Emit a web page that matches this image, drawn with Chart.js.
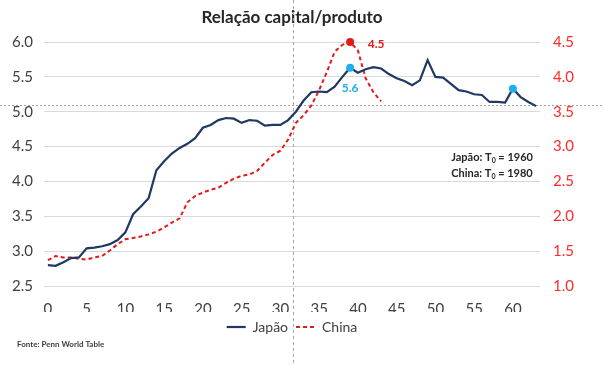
<!DOCTYPE html>
<html>
<head>
<meta charset="utf-8">
<script src="https://cdn.jsdelivr.net/npm/chart.js@4"></script>
<style>
  html, body { margin: 0; padding: 0; background: #fff; }
  #wrap { width: 604px; height: 366px; }
</style>
</head>
<body>
<div id="wrap"><canvas id="chart" width="604" height="366"></canvas></div>
<script>
// --- Data ---
const years = Array.from({ length: 64 }, (_, i) => String(i)); // T0 + n
const japan = [2.80, 2.79, 2.84, 2.90, 2.91, 3.04, 3.05, 3.07, 3.10, 3.16,
               3.27, 3.53, 3.64, 3.76, 4.16, 4.29, 4.40, 4.48, 4.54, 4.62,
               4.77, 4.81, 4.88, 4.91, 4.90, 4.84, 4.88, 4.87, 4.80, 4.81,
               4.81, 4.88, 5.00, 5.16, 5.28, 5.29, 5.28, 5.36, 5.50, 5.63,
               5.56, 5.61, 5.64, 5.62, 5.54, 5.48, 5.44, 5.38, 5.45, 5.74,
               5.50, 5.49, 5.40, 5.31, 5.29, 5.25, 5.24, 5.14, 5.14, 5.13,
               5.33, 5.21, 5.14, 5.08];
const china = [1.37, 1.43, 1.41, 1.41, 1.39, 1.38, 1.41, 1.43, 1.51, 1.60,
               1.67, 1.69, 1.71, 1.74, 1.78, 1.84, 1.91, 1.97, 2.20, 2.29,
               2.34, 2.38, 2.41, 2.48, 2.54, 2.58, 2.60, 2.65, 2.77, 2.88,
               2.94, 3.10, 3.34, 3.45, 3.59, 3.81, 4.07, 4.36, 4.46, 4.50,
               4.38, 3.98, 3.78, 3.65];
const japanMarked = [39, 60];
const chinaMarked = [39];
const leftTicks = [2.5, 3.0, 3.5, 4.0, 4.5, 5.0, 5.5, 6.0];
const rightTicks = [1.0, 1.5, 2.0, 2.5, 3.0, 3.5, 4.0, 4.5];
const xTickEvery = 5;
const refY = 5.1;      // dotted horizontal reference (left axis)
const refX = 31.6;     // dashed vertical reference
const notes = [['Japão: T', '0', ' = 1960'], ['China: T', '0', ' = 1980']];
const source = 'Fonte: Penn World Table';

// --- Colours ---
const navy = '#1F3864';
const red = '#E41A1A';
const lightBlue = '#1FAEEF';
const axisRed = '#FF2A2A';
const textGrey = '#404040';
const FONT = 'Lato, "Liberation Sans", sans-serif';

// --- Reference lines, labels and notes ---
const extras = {
    id: 'extras',
    beforeDatasetsDraw(chart) {
        const { ctx, scales } = chart;
        const y = scales.y.getPixelForValue(refY);
        const x = scales.x.getPixelForValue(refX);
        ctx.save();
        ctx.strokeStyle = '#A6A6A6';
        ctx.lineWidth = 1;
        ctx.setLineDash([2, 2]);
        ctx.beginPath();
        ctx.moveTo(0, Math.round(y) + 0.5);
        ctx.lineTo(chart.width, Math.round(y) + 0.5);
        ctx.stroke();
        ctx.setLineDash([3, 3]);
        ctx.beginPath();
        ctx.moveTo(Math.round(x) + 0.5, 0);
        ctx.lineTo(Math.round(x) + 0.5, chart.height);
        ctx.stroke();
        ctx.restore();
    },
    afterDraw(chart) {
        const { ctx, scales } = chart;
        ctx.save();
        ctx.textBaseline = 'middle';

        // value labels next to the marked peaks
        ctx.font = 'bold 12px ' + FONT;
        ctx.textAlign = 'center';
        ctx.fillStyle = lightBlue;
        ctx.fillText('5.6', scales.x.getPixelForValue(39), scales.y.getPixelForValue(japan[39]) + 20);
        ctx.fillStyle = red;
        ctx.fillText('4.5', scales.x.getPixelForValue(39) + 26, scales.y1.getPixelForValue(china[39]) + 2);

        // T0 notes
        ctx.textAlign = 'left';
        ctx.fillStyle = '#262626';
        const nx = scales.x.getPixelForValue(52.05);
        notes.forEach((parts, i) => {
            const ny = scales.y.getPixelForValue(4.34 - i * 0.23);
            let cx = nx;
            ctx.font = 'bold 11px ' + FONT;
            ctx.fillText(parts[0], cx, ny);
            cx += ctx.measureText(parts[0]).width;
            ctx.font = 'bold 7px ' + FONT;
            ctx.fillText(parts[1], cx, ny + 3);
            cx += ctx.measureText(parts[1]).width;
            ctx.font = 'bold 11px ' + FONT;
            ctx.fillText(parts[2], cx, ny);
        });

        // source
        ctx.font = 'bold 8px ' + FONT;
        ctx.fillStyle = textGrey;
        ctx.fillText(source, 17, 344);
        ctx.restore();
    }
};

const ctx = document.getElementById('chart').getContext('2d');
new Chart(ctx, {
    type: 'line',
    data: {
        labels: years,
        datasets: [
            {
                label: 'Japão', data: japan, yAxisID: 'y',
                borderColor: navy, borderWidth: 2.2, tension: 0, clip: false,
                pointRadius: c => japanMarked.includes(c.dataIndex) ? 4 : 0,
                pointBackgroundColor: lightBlue, pointBorderWidth: 0
            },
            {
                label: 'China', data: china, yAxisID: 'y1',
                borderColor: red, borderWidth: 2, borderDash: [4, 3], tension: 0, clip: false,
                pointRadius: c => chinaMarked.includes(c.dataIndex) ? 4 : 0,
                pointBackgroundColor: red, pointBorderWidth: 0
            }
        ]
    },
    options: {
        responsive: false, animation: false,
        // extra right padding keeps title/legend centred where the original had them
        layout: { padding: { left: 0, right: 20, top: 0, bottom: 22 } },
        scales: {
            x: {
                offset: true,
                grid: { display: false }, border: { display: false },
                ticks: {
                    autoSkip: false, maxRotation: 0, padding: 6, color: textGrey,
                    font: { family: FONT, size: 15 },
                    callback: (v, i) => i % xTickEvery === 0 ? years[i] : ''
                },
                afterFit: s => { s.height = 26; }
            },
            y: {
                position: 'left', min: 2.5, max: 6.0,
                afterBuildTicks: s => { s.ticks = leftTicks.map(v => ({ value: v })); },
                grid: { color: '#D9D9D9', drawTicks: false }, border: { display: false },
                ticks: { padding: 11, color: textGrey, font: { family: FONT, size: 15 }, callback: v => v.toFixed(1) },
                afterFit: s => { s.width = 44; }
            },
            y1: {
                position: 'right', min: 1.0, max: 4.5,
                afterBuildTicks: s => { s.ticks = rightTicks.map(v => ({ value: v })); },
                grid: { drawOnChartArea: false, drawTicks: false }, border: { display: false },
                ticks: { padding: 13, color: axisRed, font: { family: FONT, size: 15 }, callback: v => v.toFixed(1) },
                afterFit: s => { s.width = 44; }
            }
        },
        plugins: {
            title: {
                display: true, text: 'Relação capital/produto', color: '#262626',
                font: { family: FONT, size: 17, weight: 'bold' },
                padding: { top: 7, bottom: 14.6 }
            },
            legend: {
                position: 'bottom',
                labels: {
                    usePointStyle: true, pointStyleWidth: 19,
                    color: textGrey, font: { family: FONT, size: 14 }, padding: 8,
                    generateLabels: chart => chart.data.datasets.map((ds, i) => ({
                        text: ds.label, datasetIndex: i, hidden: false,
                        pointStyle: 'line', strokeStyle: ds.borderColor, fillStyle: ds.borderColor,
                        lineWidth: ds.borderWidth, lineDash: ds.borderDash || [],
                        fontColor: textGrey
                    }))
                }
            },
            tooltip: { enabled: false }
        }
    },
    plugins: [extras]
});
</script>
</body>
</html>
